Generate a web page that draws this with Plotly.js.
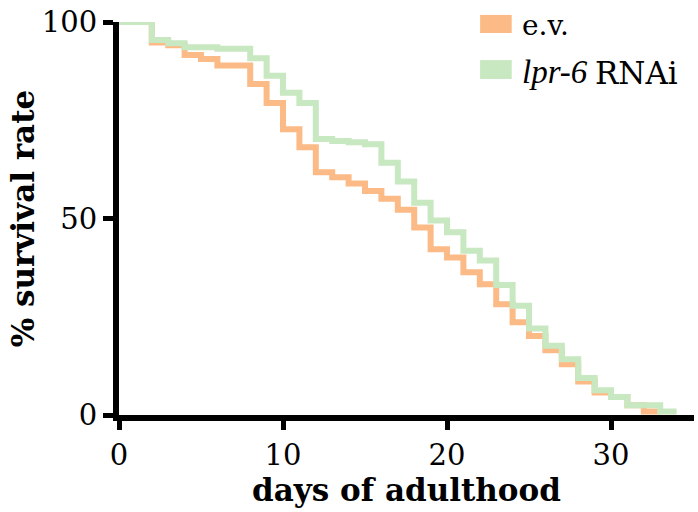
<!DOCTYPE html>
<html>
<head>
<meta charset="utf-8">
<script src="https://cdn.plot.ly/plotly-3.0.1.min.js"></script>
<style>html,body{margin:0;padding:0;background:#fff;}#chart{width:698px;height:512px;}</style>
</head>
<body>
<div id="chart"></div>
<script>
// Kaplan-Meier style survival data
const daysEV   = [0, 2, 3, 4, 5, 6, 8, 9, 10, 11, 12, 13, 14, 15, 16, 17, 18, 19, 20, 21, 22, 23, 24, 25, 26, 27, 28, 29, 30, 31, 32, 33];
const survEV   = [100, 94.8, 94.1, 91.6, 90.6, 88.9, 84.2, 79.4, 72.7, 68.1, 61.8, 60.5, 58.9, 57.0, 55.0, 52.2, 47.7, 42.2, 40.1, 36.3, 33.3, 28.2, 23.6, 20.1, 16.5, 12.9, 8.5, 5.7, 4.6, 2.5, 0.9, 0.9];
const daysRNAi = [0, 2, 3, 4, 6, 8, 9, 10, 11, 12, 13, 14, 15, 16, 17, 18, 19, 20, 21, 22, 23, 24, 25, 26, 27, 28, 29, 30, 31, 33, 34];
const survRNAi = [100, 95.4, 94.6, 93.6, 93.2, 90.8, 86.3, 82.0, 79.4, 70.2, 69.7, 69.4, 68.9, 64.2, 59.4, 54.0, 49.5, 46.5, 41.8, 39.3, 33.1, 27.8, 22.0, 17.6, 14.2, 9.4, 6.3, 4.6, 2.5, 0.9, 0.9];
const xTicks = [0, 10, 20, 30];
const yTicks = [0, 50, 100];
const legendLabels = ['e.v.', 'lpr-6', 'RNAi'];
const colors = ['#fcbb86', '#c7e8c0'];

const FONT = 'DejaVu Serif';

const traces = [
  {x: daysEV, y: survEV, mode: 'lines', line: {shape: 'hv', color: colors[0], width: 6}, name: 'e.v.', showlegend: false},
  {x: daysRNAi, y: survRNAi, mode: 'lines', line: {shape: 'hv', color: colors[1], width: 6}, name: 'lpr-6 RNAi', showlegend: false}
];

// legend built from paper-positioned swatches and labels
const legX0 = 0.628, legX1 = 0.683, legTextX = 0.697;
const legRows = [{y0: 0.972, y1: 1.018, ty: 0.99}, {y0: 0.855, y1: 0.903, ty: 0.872}];
const shapes = legRows.map((r, i) => ({type: 'rect', xref: 'paper', yref: 'paper', x0: legX0, x1: legX1, y0: r.y0, y1: r.y1, fillcolor: colors[i], line: {width: 0}}));
const annotations = [
  {xref: 'paper', yref: 'paper', x: legTextX, y: legRows[0].ty, xanchor: 'left', yanchor: 'middle', text: legendLabels[0], showarrow: false, font: {family: FONT, size: 28, color: '#000'}},
  {xref: 'paper', yref: 'paper', x: legTextX, y: legRows[1].ty, xanchor: 'left', yanchor: 'middle', text: legendLabels[1], showarrow: false, font: {family: 'Liberation Serif', size: 33, style: 'italic', color: '#000'}},
  {xref: 'paper', yref: 'paper', x: 0.824, y: legRows[1].ty - 0.002, xanchor: 'left', yanchor: 'middle', text: legendLabels[2], showarrow: false, font: {family: FONT, size: 31, color: '#000'}}
];

const layout = {
  width: 698, height: 512,
  margin: {l: 119, r: 4, t: 22, b: 97},
  paper_bgcolor: '#fff', plot_bgcolor: '#fff',
  showlegend: false,
  font: {family: FONT, color: '#000'},
  xaxis: {
    range: [0, 35.06], showgrid: false, zeroline: false,
    showline: true, linecolor: '#000', linewidth: 6,
    ticks: 'outside', ticklen: 9, tickwidth: 5, tickcolor: '#000',
    tickvals: xTicks, ticktext: xTicks.map(String),
    tickfont: {family: FONT, size: 29, color: '#000'},
    title: {text: 'days of adulthood', font: {family: FONT, size: 31, weight: 'bold', color: '#000'}, standoff: 3},
    automargin: false, fixedrange: true
  },
  yaxis: {
    range: [0, 100], showgrid: false, zeroline: false,
    showline: true, linecolor: '#000', linewidth: 6,
    ticks: 'outside', ticklen: 10, tickwidth: 5, tickcolor: '#000',
    tickvals: yTicks, ticktext: yTicks.map(String),
    tickfont: {family: FONT, size: 29, color: '#000'},
    title: {text: '% survival rate', font: {family: FONT, size: 31, weight: 'bold', color: '#000'}, standoff: 0},
    automargin: false, fixedrange: true
  },
  shapes: shapes,
  annotations: annotations
};

Plotly.newPlot('chart', traces, layout, {displayModeBar: false, staticPlot: true});
</script>
</body>
</html>
